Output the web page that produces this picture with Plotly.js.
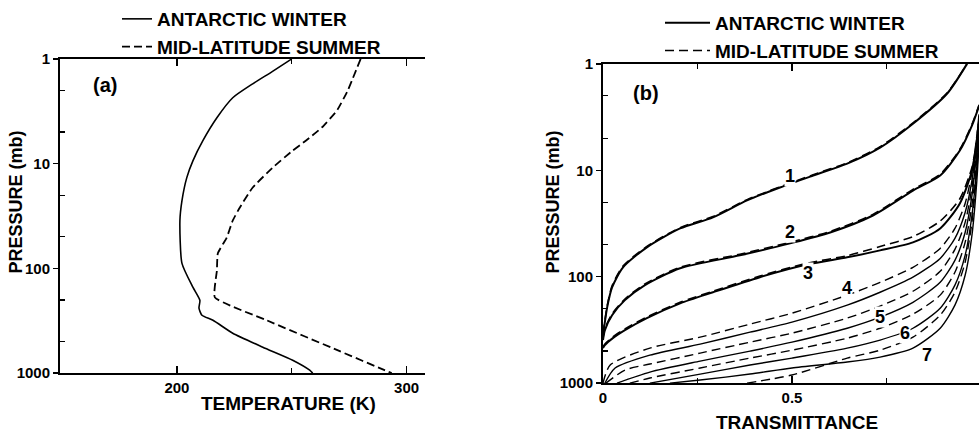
<!DOCTYPE html>
<html><head><meta charset="utf-8">
<script src="https://cdn.plot.ly/plotly-3.0.1.min.js"></script>
<style>html,body{margin:0;padding:0;background:#fff;overflow:hidden}#chart{width:979px;height:437px}</style>
</head><body><div id="chart"></div>
<script>
// ---------- Panel (a): temperature profiles ----------
const awPressureA   = [1, 1.33, 1.73, 2.35, 3.65, 6.04, 9.36, 13.6, 22.5, 34.9, 89.6, 152, 202, 240, 280, 313, 416, 565, 752, 936, 1000];
const awTemperature = [250.0, 241.3, 233.0, 224.3, 217.4, 211.3, 207.0, 204.3, 202.2, 201.3, 202.2, 207.0, 210.0, 209.6, 210.9, 215.7, 224.3, 237.4, 250.4, 257.8, 259.1];
const mlsPressureA   = [1, 2.02, 3.13, 4.54, 6.04, 7.52, 10.9, 16.9, 26.2, 34.9, 50.7, 71.9, 105, 189, 313, 617, 936, 1000];
const mlsTemperature = [280.0, 274.3, 269.6, 263.0, 256.1, 250.4, 241.7, 233.0, 227.4, 224.3, 221.7, 217.8, 217.4, 216.5, 239.1, 270.9, 290.4, 293.5];

// ---------- Panel (b): transmittance, bands 1-7 ----------
const bandNames = ['1', '2', '3', '4', '5', '6', '7'];
const awTrans = [
  [0, 0.003, 0.011, 0.024, 0.053, 0.116, 0.204, 0.291, 0.381, 0.468, 0.556, 0.646, 0.733, 0.820, 0.910, 0.963],
  [0, 0.005, 0.024, 0.058, 0.111, 0.204, 0.362, 0.495, 0.601, 0.714, 0.820, 0.892, 0.944, 0.976, 0.995],
  [0, 0.005, 0.026, 0.058, 0.116, 0.204, 0.291, 0.415, 0.542, 0.646, 0.733, 0.820, 0.892, 0.944, 0.976, 0.989, 0.995],
  [0.005, 0.032, 0.124, 0.257, 0.389, 0.5, 0.646, 0.733, 0.820, 0.892, 0.931, 0.958, 0.976, 0.989, 0.995],
  [0.037, 0.124, 0.257, 0.389, 0.5, 0.646, 0.733, 0.820, 0.892, 0.931, 0.958, 0.976, 0.989, 0.995],
  [0.124, 0.257, 0.389, 0.5, 0.646, 0.733, 0.820, 0.892, 0.931, 0.958, 0.976, 0.989, 0.995],
  [0.177, 0.257, 0.389, 0.5, 0.646, 0.733, 0.820, 0.892, 0.931, 0.958, 0.976, 0.989, 0.995]
];
const awPres = [
  [354, 298, 194, 126, 81.6, 53.0, 35.2, 27.7, 19.2, 14.5, 11.2, 8.65, 6.12, 3.65, 1.91, 1.0],
  [394, 318, 230, 166, 120, 83.4, 63.0, 48.6, 38.4, 26.6, 15.5, 11.2, 6.53, 3.81, 2.48],
  [469, 440, 378, 318, 245, 178, 140, 101, 76.5, 65.8, 56.6, 47.6, 35.2, 20.5, 10.1, 5.27, 3.07],
  [1000, 721, 546, 430, 332, 267, 185, 140, 101, 67.3, 43.6, 24.9, 12.5, 5.27, 3.42],
  [1000, 787, 621, 500, 412, 305, 240, 174, 113, 70.2, 38.4, 17.3, 6.53, 3.81],
  [1000, 822, 676, 582, 469, 394, 305, 198, 120, 63.0, 26.6, 9.03, 4.24],
  [1000, 935, 822, 721, 634, 569, 469, 305, 185, 97.0, 40.9, 12.5, 5.27]
];
const mlsTrans = [
  [0, 0.003, 0.011, 0.024, 0.053, 0.116, 0.204, 0.291, 0.381, 0.468, 0.556, 0.646, 0.733, 0.820, 0.910, 0.963],
  [0, 0.005, 0.024, 0.058, 0.111, 0.204, 0.362, 0.495, 0.601, 0.714, 0.820, 0.892, 0.944, 0.976, 0.995],
  [0, 0.005, 0.026, 0.058, 0.116, 0.204, 0.291, 0.415, 0.542, 0.646, 0.733, 0.820, 0.892, 0.944, 0.976, 0.989, 0.995],
  [0, 0.019, 0.124, 0.257, 0.389, 0.5, 0.646, 0.733, 0.820, 0.892, 0.931, 0.958, 0.976, 0.989, 0.995],
  [0.008, 0.058, 0.124, 0.257, 0.389, 0.5, 0.646, 0.733, 0.820, 0.892, 0.931, 0.958, 0.976, 0.989, 0.995],
  [0.071, 0.124, 0.257, 0.389, 0.5, 0.646, 0.733, 0.820, 0.892, 0.931, 0.958, 0.976, 0.989, 0.995],
  [0.381, 0.5, 0.646, 0.733, 0.820, 0.892, 0.931, 0.958, 0.976, 0.989, 0.995]
];
const mlsPres = [
  [340, 288, 188, 122, 79.5, 52.0, 34.6, 27.2, 18.9, 14.3, 11.0, 8.5, 6.0, 3.58, 1.88, 1.0],
  [380, 308, 224, 162, 117, 81.5, 61.5, 47.5, 37.5, 26.0, 15.1, 10.9, 6.35, 3.7, 2.42],
  [455, 428, 368, 310, 239, 174, 137, 98.5, 74.5, 63.5, 52.0, 42.0, 30.0, 18.5, 9.4, 5.0, 2.98],
  [1000, 676, 469, 370, 279, 220, 149, 113, 81.6, 54.2, 35.2, 20.5, 10.5, 4.73, 3.21],
  [1000, 754, 662, 522, 412, 339, 245, 189, 137, 89.0, 55.3, 30.9, 14.5, 5.87, 3.57],
  [1000, 896, 721, 582, 490, 378, 305, 225, 149, 90.9, 47.6, 21.4, 7.77, 4.06],
  [1000, 839, 582, 490, 370, 230, 140, 73.3, 30.9, 10.1, 4.73]
];
const legendNames = ['ANTARCTIC WINTER', 'MID-LATITUDE SUMMER'];

// ---------- helpers ----------
const W = 979, H = 437;
const px = x => x / W, py = y => 1 - y / H;
const FONT = 'Liberation Sans, Arial, Helvetica, sans-serif';
const fnt = (size) => ({family: FONT, size: size, color: '#000', weight: 700});

const traces = [];
traces.push({x: awTemperature, y: awPressureA, xaxis: 'x', yaxis: 'y', mode: 'lines',
  name: legendNames[0], legend: 'legend',
  line: {color: '#000', width: 1.6, shape: 'spline', smoothing: 0.6}});
traces.push({x: mlsTemperature, y: mlsPressureA, xaxis: 'x', yaxis: 'y', mode: 'lines',
  name: legendNames[1], legend: 'legend',
  line: {color: '#000', width: 1.8, dash: '8px,4px', shape: 'spline', smoothing: 0.4}});

bandNames.forEach((b, i) => {
  const bold = i < 3;
  traces.push({x: awTrans[i], y: awPres[i], xaxis: 'x2', yaxis: 'y2', mode: 'lines',
    name: legendNames[0], legend: 'legend2', showlegend: i === 0,
    line: {color: '#000', width: bold ? 2.0 : 1.4, shape: 'spline', smoothing: 0.7}});
  traces.push({x: mlsTrans[i], y: mlsPres[i], xaxis: 'x2', yaxis: 'y2', mode: 'lines',
    name: legendNames[1], legend: 'legend2', showlegend: i === 0,
    line: {color: '#000', width: bold ? 1.6 : 1.4, dash: '9px,5px', shape: 'spline', smoothing: 0.7}});
});

const labelT = [0.495, 0.495, 0.542, 0.646, 0.733, 0.799, 0.857];
const labelP = [11.2, 38.4, 93, 128, 240, 339, 546];

const txt = (text, x, y, size, extra) => Object.assign({text: text, xref: 'paper', yref: 'paper',
  x: px(x), y: py(y), xanchor: 'center', yanchor: 'middle', showarrow: false, font: fnt(size)}, extra || {});

const annotations = [
  txt('(a)', 105, 84, 20),
  txt('(b)', 646, 92, 20),
  txt('TEMPERATURE (K)', 288, 403, 19),
  txt('TRANSMITTANCE', 797, 422, 19),
  txt('PRESSURE (mb)', 16, 202, 18, {textangle: -90}),
  txt('PRESSURE (mb)', 553, 202, 18, {textangle: -90})
];
bandNames.forEach((b, i) => {
  annotations.push({text: b, xref: 'x2', yref: 'y2', x: labelT[i], y: Math.log10(labelP[i]),
    xanchor: 'center', yanchor: 'middle', showarrow: false, font: fnt(18), bgcolor: '#fff', borderpad: 0});
});

const axCommon = {showline: true, linewidth: 2, linecolor: '#000', showgrid: false, zeroline: false,
  tickcolor: '#000', tickfont: fnt(15), fixedrange: true};
const minorX = v => ({tickmode: 'array', tickvals: v, ticks: 'inside', ticklen: 5, tickwidth: 1.2, tickcolor: '#000', showgrid: false});

const layout = {
  width: W, height: H, margin: {l: 0, r: 0, t: 0, b: 0},
  paper_bgcolor: '#fff', plot_bgcolor: '#fff',
  font: {family: FONT, color: '#000'},
  xaxis: Object.assign({}, axCommon, {domain: [px(60), px(425)], range: [149.1, 308], anchor: 'y',
    mirror: 'ticks', ticks: 'inside', ticklen: 7, tickwidth: 1.5,
    tickmode: 'array', tickvals: [200, 300], ticktext: ['200', '300'], minor: minorX([250])}),
  yaxis: Object.assign({}, axCommon, {domain: [py(373), py(58)], type: 'log', range: [3, 0], anchor: 'x',
    ticks: 'outside', ticklen: 5, tickwidth: 1.5,
    tickmode: 'array', tickvals: [1, 10, 100, 1000], ticktext: ['1', '10', '100', '1000'],
    minor: minorX([2, 5, 20, 50, 200, 500])}),
  xaxis2: Object.assign({}, axCommon, {domain: [px(603), 1], range: [0, 0.9947], anchor: 'y2',
    mirror: 'ticks', ticks: 'inside', ticklen: 7, tickwidth: 1.5,
    tickmode: 'array', tickvals: [0, 0.5], ticktext: ['0', '0.5'], minor: minorX([0.25, 0.75])}),
  yaxis2: Object.assign({}, axCommon, {domain: [py(383), py(63)], type: 'log', range: [3, 0], anchor: 'x2',
    ticks: 'outside', ticklen: 5, tickwidth: 1.5,
    tickmode: 'array', tickvals: [1, 10, 100, 1000], ticktext: ['1', '10', '100', '1000'],
    minor: minorX([2, 5, 20, 50, 200, 500])}),
  legend: {x: px(117), y: py(-1), xanchor: 'left', yanchor: 'top', font: fnt(19),
    bgcolor: 'rgba(0,0,0,0)', borderwidth: 0, itemwidth: 30, tracegroupgap: 0},
  legend2: {x: px(660), y: py(4), xanchor: 'left', yanchor: 'top', font: fnt(19),
    bgcolor: 'rgba(0,0,0,0)', borderwidth: 0, itemwidth: 45, tracegroupgap: 0},
  annotations: annotations,
  showlegend: true
};

Plotly.newPlot('chart', traces, layout, {staticPlot: true, displayModeBar: false});
</script>
</body></html>
